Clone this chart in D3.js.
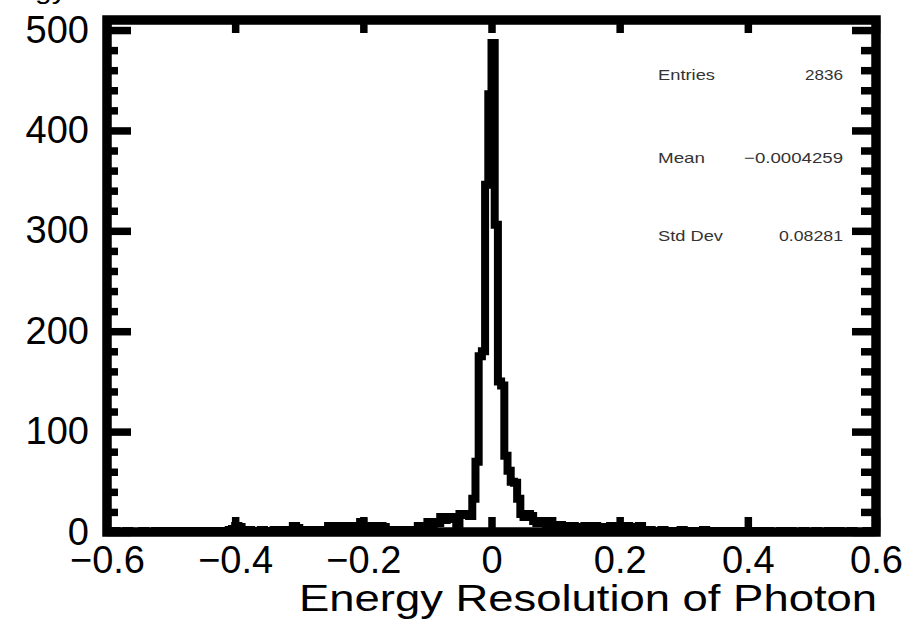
<!DOCTYPE html>
<html>
<head>
<meta charset="utf-8">
<script src="https://d3js.org/d3.v7.min.js"></script>
<style>
  body { margin: 0; background: #fff; }
  svg { display: block; font-family: "Liberation Sans", Arial, sans-serif; }
</style>
</head>
<body>
<svg id="chart" width="902" height="626"></svg>
<script>
// histogram: 240 bins of 0.005 from -0.6 to 0.6
var binLow = -0.6;
var binWidth = 0.005;
var counts = [
    0,0,1,0,0,0,1,0,0,0,0,1,0,0,0,1,0,0,1,0,          // -0.6 .. -0.5
    0,1,0,0,1,0,0,1,0,0,1,0,0,1,0,1,0,0,2,3,          // -0.5 .. -0.4
    6,5,1,0,2,1,0,1,2,1,0,1,2,1,0,2,1,2,6,4,          // -0.4 .. -0.3
    2,1,2,1,0,2,1,2,2,6,5,3,6,4,6,5,6,4,5,10,         // -0.3 .. -0.2
    6,6,4,6,5,6,5,2,1,2,1,2,0,2,1,2,2,6,4,6,          // -0.2 .. -0.1
    10,8,10,9,15,12,14,15,13,3,18,17,18,16,33,70,175,180,346,436,   // -0.1 .. 0
    487,306,150,146,76,61,50,49,33,18,15,18,16,11,9,11,10,8,11,7,   // 0 .. 0.1
    4,7,6,5,3,6,4,2,5,6,3,4,6,2,5,3,4,6,2,4,          // 0.1 .. 0.2
    5,3,6,2,4,5,6,1,0,2,1,0,1,2,0,1,0,1,0,2,          // 0.2 .. 0.3
    0,1,0,0,1,0,2,0,1,0,0,1,0,0,1,0,0,1,0,1,          // 0.3 .. 0.4
    1,0,0,1,0,0,1,0,0,0,1,0,0,1,0,0,0,1,0,0,          // 0.4 .. 0.5
    0,1,0,0,0,1,0,0,1,0,0,0,1,0,0,0,0,1,0,0           // 0.5 .. 0.6
];

var xTicks = [-0.6, -0.4, -0.2, 0, 0.2, 0.4, 0.6];
var xTickLabels = ["\u22120.6", "\u22120.4", "\u22120.2", "0", "0.2", "0.4", "0.6"];
var yTicks = [0, 100, 200, 300, 400, 500];
var yMinorTicks = [20,40,60,80,120,140,160,180,220,240,260,280,320,340,360,380,420,440,460,480];

var statNames = ["Entries", "Mean", "Std Dev"];
var statValues = ["2836", "\u22120.0004259", "0.08281"];

var histTitle = "Energy Resolution of Photon";
var xTitle = "Energy Resolution of Photon";

var svg = d3.select("#chart");
var x = d3.scaleLinear().domain([-0.6, 0.6]).range([107, 876]);
var y = d3.scaleLinear().domain([0, 510]).range([532, 20]);

// histogram outline
var pts = [[binLow, 0]];
counts.forEach(function(c, i) { pts.push([binLow + i * binWidth, c]); });
pts.push([binLow + counts.length * binWidth, 0]);

var line = d3.line()
    .x(function(d) { return x(d[0]); })
    .y(function(d) { return y(d[1]); })
    .curve(d3.curveStepAfter);

svg.append("path")
    .attr("d", line(pts))
    .attr("fill", "none")
    .attr("stroke", "#000")
    .attr("stroke-width", 8)
    .attr("stroke-linejoin", "miter");

// axes
function styleAxis(g) {
    g.select(".domain").remove();
    g.selectAll(".tick line").attr("stroke", "#000").attr("stroke-width", 7.5);
    g.selectAll(".tick text")
        .attr("fill", "#000")
        .style("font-size", "38px");
}

svg.append("g").attr("transform", "translate(107,0)")
    .call(d3.axisLeft(y).tickValues(yTicks).tickSize(-24).tickPadding(18))
    .call(styleAxis);
svg.append("g").attr("transform", "translate(107,0)")
    .call(d3.axisLeft(y).tickValues(yMinorTicks).tickSize(-11).tickFormat(""))
    .call(styleAxis);
svg.append("g").attr("transform", "translate(876,0)")
    .call(d3.axisRight(y).tickValues(yTicks).tickSize(-24).tickFormat(""))
    .call(styleAxis);
svg.append("g").attr("transform", "translate(876,0)")
    .call(d3.axisRight(y).tickValues(yMinorTicks).tickSize(-15).tickFormat(""))
    .call(styleAxis);

svg.append("g").attr("transform", "translate(0,532)")
    .call(d3.axisBottom(x).tickValues(xTicks).tickSize(-15).tickPadding(14)
        .tickFormat(function(d, i) { return xTickLabels[i]; }))
    .call(styleAxis);
svg.append("g").attr("transform", "translate(0,20)")
    .call(d3.axisTop(x).tickValues(xTicks).tickSize(-13).tickFormat(""))
    .call(styleAxis);

// frame
svg.append("rect")
    .attr("x", x(-0.6)).attr("y", y(510))
    .attr("width", x(0.6) - x(-0.6)).attr("height", y(0) - y(510))
    .attr("fill", "none").attr("stroke", "#000").attr("stroke-width", 9.5);

// titles
svg.append("text")
    .attr("x", -28).attr("y", -1)
    .attr("textLength", 380).attr("lengthAdjust", "spacingAndGlyphs")
    .style("font-size", "26px")
    .text(histTitle);

svg.append("text")
    .attr("x", 299).attr("y", 611)
    .attr("textLength", 578).attr("lengthAdjust", "spacingAndGlyphs")
    .style("font-size", "37px")
    .text(xTitle);

// stats box
var statY = [80, 163, 241];
var nameW = [57, 47, 65];
var valW = [38, 99, 64];
statNames.forEach(function(n, i) {
    svg.append("text")
        .attr("x", 658).attr("y", statY[i])
        .attr("textLength", nameW[i]).attr("lengthAdjust", "spacingAndGlyphs")
        .attr("fill", "#333")
        .style("font-size", "15px")
        .text(n);
    svg.append("text")
        .attr("x", 843 - valW[i]).attr("y", statY[i])
        .attr("textLength", valW[i]).attr("lengthAdjust", "spacingAndGlyphs")
        .attr("fill", "#333")
        .style("font-size", "15px")
        .text(statValues[i]);
});
</script>
</body>
</html>
